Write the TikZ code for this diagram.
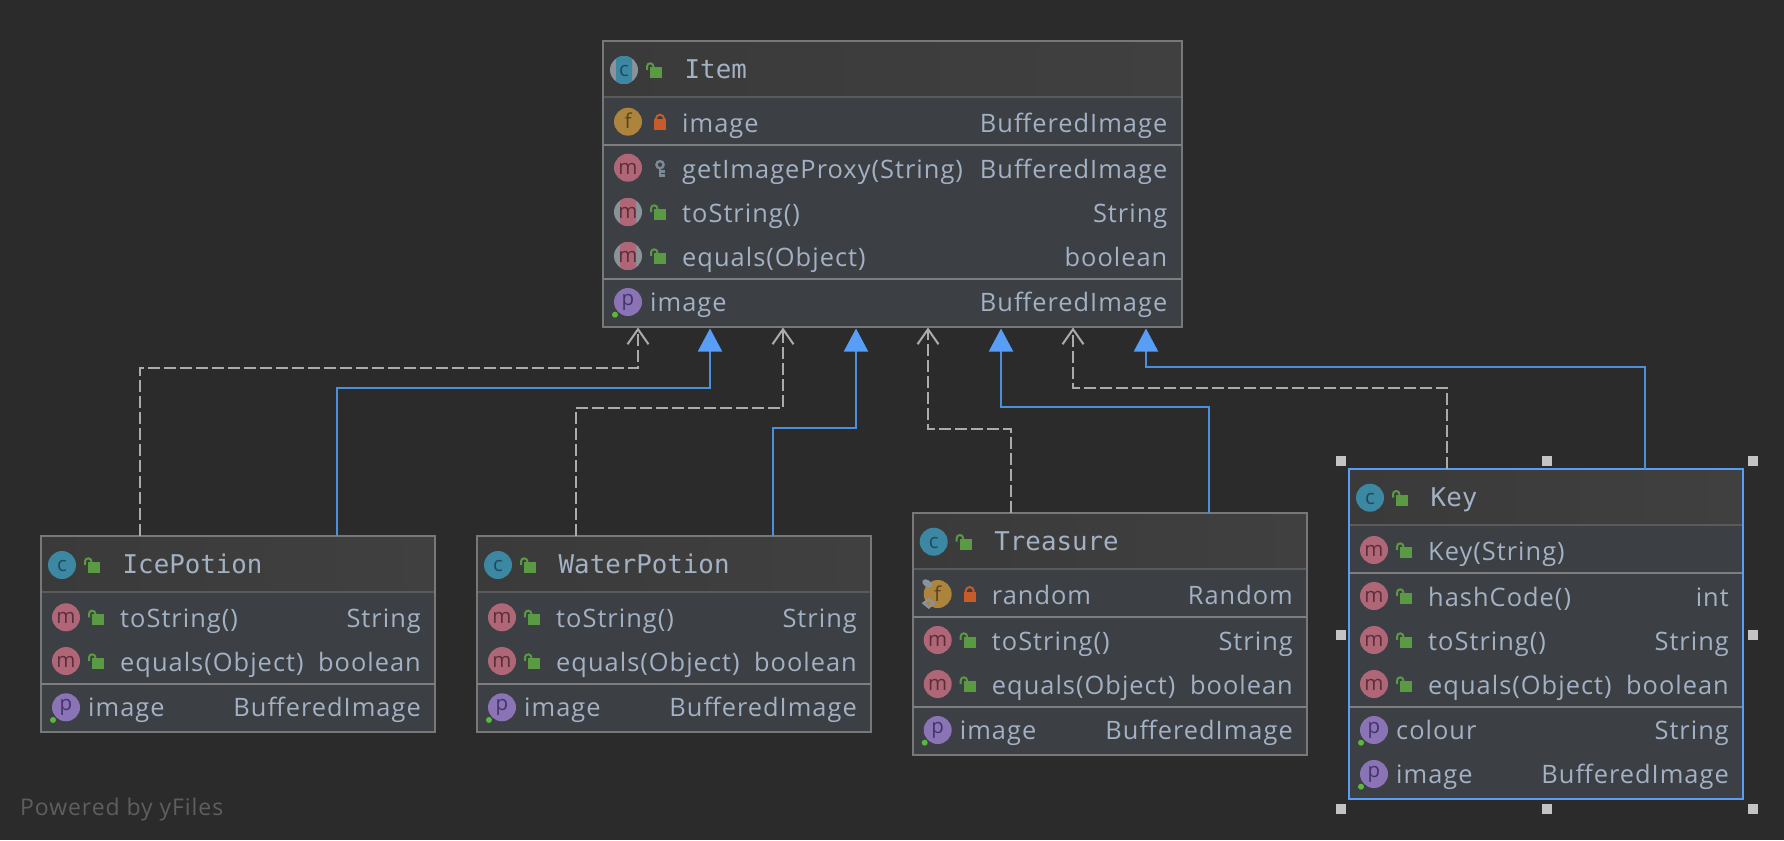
\documentclass[tikz,border=0pt]{standalone}
\usepackage{fontspec}
\usetikzlibrary{arrows.meta,calc}
\setmainfont{Open Sans}
\newfontfamily\memb[LetterSpace=4]{Open Sans}
\newfontfamily\monof{DejaVu Sans Mono}
\definecolor{bg}{HTML}{2B2B2B}
\definecolor{bodyc}{HTML}{3C3F43}
\definecolor{headl}{HTML}{3A3A3A}
\definecolor{headr}{HTML}{404040}
\definecolor{edge}{HTML}{787878}
\definecolor{divh}{HTML}{5A5A5A}
\definecolor{divm}{HTML}{7E7E7E}
\definecolor{txt}{HTML}{A3B1C4}
\definecolor{selb}{HTML}{589DF6}
\definecolor{inh}{HTML}{4A90DC}
\definecolor{dep}{HTML}{ABABAB}
\definecolor{cfill}{HTML}{3C88A3}
\definecolor{cink}{HTML}{1F4B5E}
\definecolor{mfill}{HTML}{AF6677}
\definecolor{mink}{HTML}{5C2E3A}
\definecolor{ffill}{HTML}{AC843D}
\definecolor{fink}{HTML}{5A4320}
\definecolor{pfill}{HTML}{8B74B5}
\definecolor{pink2}{HTML}{43346A}
\definecolor{absg}{HTML}{8A939A}
\definecolor{lockg}{HTML}{5A9A42}
\definecolor{lockr}{HTML}{C75B2A}
\definecolor{keyg}{HTML}{7B8A95}
\definecolor{dotg}{HTML}{5CB83C}
\definecolor{pow}{HTML}{5E5E5E}
\definecolor{handle}{HTML}{C4C4C4}
\newcounter{nn}
\newcommand{\nnode}{\stepcounter{nn}\node}
\newcommand{\nid}{n\arabic{nn}}
\tikzset{
  boxn/.style={draw=edge,fill=bodyc,line width=2pt,inner sep=0pt,outer sep=0pt,anchor=north west},
  hdr/.style={inner sep=0pt,anchor=base west,text=txt,font=\monof\fontsize{25.8pt}{28pt}\selectfont},
  lft/.style={inner sep=0pt,anchor=base west,text=txt,font=\memb\fontsize{25.4pt}{28pt}\selectfont},
  rgt/.style={inner sep=0pt,anchor=base east,text=txt,font=\memb\fontsize{25.4pt}{28pt}\selectfont},
  lett/.style={inner sep=0pt,anchor=base,font=\fontsize{20.5pt}{22pt}\selectfont},
  hand/.style={fill=handle,draw=none,minimum size=10pt,inner sep=0pt,outer sep=0pt},
  depl/.style={draw=dep,line width=2pt,dash pattern=on 12pt off 4pt,-{Straight Barb[length=15pt,width=21pt,line width=2pt]}},
  inhl/.style={draw=inh,line width=2pt,-{Triangle[length=23pt,width=24pt,fill=selb,color=selb]}},
}
% class box: name, left, top, right, bottom, header bottom
\newcommand{\classbox}[6]{%
  \pgfmathsetmacro{\bw}{#4-#2}\pgfmathsetmacro{\bh}{#5-#3}%
  \node[boxn,minimum width=\bw pt,minimum height=\bh pt] (#1) at (#2,#3) {};
  \shade[left color=headl,right color=headr] (#2+1,#3+1) rectangle (#4-1,#6);
  \draw[divh,line width=2pt] (#2,#6) -- (#4,#6);
  \draw[edge,line width=2pt] (#2,#3) rectangle (#4,#5);
  \def\bl{#2}\def\br{#4}}
\newcommand{\divline}[1]{\draw[divm,line width=2pt] (\bl,#1) -- (\br,#1);}
\newcommand{\badge}[6]{% x y fill ink letter dy
  \fill[#3] (#1,#2) circle[radius=14];
  \nnode[lett,text=#4] (\nid) at (#1,#2+#6) {#5};}
\newcommand{\absbadge}[6]{%
  \fill[absg] (#1,#2) circle[radius=14];
  \begin{scope}
    \clip (#1-8,#2-15) rectangle (#1+8,#2+15);
    \fill[#3] (#1,#2) circle[radius=14];
  \end{scope}
  \nnode[lett,text=#4] (\nid) at (#1,#2+#6) {#5};}
\newcommand{\lockopen}[2]{%
  \fill[lockg] (#1+26,#2-3) rectangle (#1+38,#2+8);
  \draw[lockg,line width=2pt] (#1+23,#2) -- (#1+23,#2-3.5) arc[start angle=180,end angle=360,radius=3.2] -- (#1+29.4,#2-2);}
\newcommand{\lockshut}[2]{%
  \fill[lockr] (#1+26,#2-2.3) rectangle (#1+38,#2+8.3);
  \draw[lockr,line width=2pt] (#1+28,#2-2) -- (#1+28,#2-3) arc[start angle=180,end angle=360,radius=4] -- (#1+36,#2-2);}
\newcommand{\keyicon}[2]{%
  \draw[keyg,line width=2.4pt] (#1+32,#2-3) circle[radius=3.6];
  \draw[keyg,line width=2.6pt] (#1+32,#2) -- (#1+32,#2+9) (#1+32,#2+3.5) -- (#1+37,#2+3.5) (#1+32,#2+8) -- (#1+37,#2+8);}
% header row: y, text
\newcommand{\headrow}[2]{%
  \badge{\bl+21}{#1}{cfill}{cink}{c}{6.5}
  \lockopen{\bl+21}{#1}
  \nnode[hdr] (\nid) at (\bl+81.5,#1+8.5) {#2};}
% method row: y, left, right
\newcommand{\mrow}[3]{%
  \badge{\bl+25}{#1}{mfill}{mink}{m}{6.5}
  \lockopen{\bl+25}{#1}
  \nnode[lft] (\nid) at (\bl+79,#1+10) {#2};
  \nnode[rgt] (\nid) at (\br-14,#1+10) {#3};}
% property row
\newcommand{\prow}[3]{%
  \badge{\bl+25}{#1}{pfill}{pink2}{p}{3.5}
  \fill[dotg] (\bl+12,#1+12.7) circle[radius=3];
  \nnode[lft] (\nid) at (\bl+47,#1+9.5) {#2};
  \nnode[rgt] (\nid) at (\br-14,#1+9.5) {#3};}
\begin{document}
\begin{tikzpicture}[x=1pt,y=-1pt]
\useasboundingbox (0,0) rectangle (1784,840);
\fill[bg] (0,0) rectangle (1784,840);

% ---------- Item
\classbox{item}{603}{41}{1181.5}{327}{96.7}
\divline{145}\divline{278.7}
\absbadge{\bl+21}{70}{cfill}{cink}{c}{6.5}
\lockopen{\bl+21}{70}
\nnode[hdr] (\nid) at (\bl+81.5,78.5) {Item};
\badge{\bl+25}{121.7}{ffill}{fink}{f}{7}
\lockshut{\bl+25}{121.7}
\nnode[lft] (\nid) at (\bl+79,132) {image};
\nnode[rgt] (\nid) at (\br-14,132) {BufferedImage};
\badge{\bl+25}{167.7}{mfill}{mink}{m}{6.5}
\keyicon{\bl+25}{167.7}
\nnode[lft] (\nid) at (\bl+79,178) {getImageProxy(String)};
\nnode[rgt] (\nid) at (\br-14,178) {BufferedImage};
\absbadge{\bl+25}{212}{mfill}{mink}{m}{6.5}
\lockopen{\bl+25}{212}
\nnode[lft] (\nid) at (\bl+79,222) {toString()};
\nnode[rgt] (\nid) at (\br-14,222) {String};
\absbadge{\bl+25}{256}{mfill}{mink}{m}{6.5}
\lockopen{\bl+25}{256}
\nnode[lft] (\nid) at (\bl+79,266) {equals(Object)};
\nnode[rgt] (\nid) at (\br-14,266) {boolean};
\prow{302}{image}{BufferedImage}

% ---------- IcePotion
\classbox{ice}{41}{535.7}{435}{731.7}{591.7}
\divline{684}
\headrow{565}{IcePotion}
\mrow{617.3}{toString()}{String}
\mrow{661}{equals(Object)}{boolean}
\prow{707.3}{image}{BufferedImage}

% ---------- WaterPotion
\classbox{water}{477}{535.7}{871}{731.7}{591.7}
\divline{684}
\headrow{565}{WaterPotion}
\mrow{617.3}{toString()}{String}
\mrow{661}{equals(Object)}{boolean}
\prow{707.3}{image}{BufferedImage}

% ---------- Treasure
\classbox{treasure}{912.7}{512.7}{1307}{755}{569}
\divline{616.7}\divline{706.7}
\headrow{541.7}{Treasure}
\badge{\bl+25}{594}{ffill}{fink}{f}{7}
\fill[absg,rotate around={-35:(\bl+14.5,583.5)}] (\bl+14.5,583.5) ellipse[x radius=5.5,y radius=3.5];
\fill[absg] (\bl+16,598) -- (\bl+23,603) -- (\bl+16,609) -- (\bl+9,603) -- cycle;
\fill[ffill] (\bl+16,601) -- (\bl+19,603) -- (\bl+16,606) -- (\bl+13,603) -- cycle;
\lockshut{\bl+25}{594}
\nnode[lft] (\nid) at (\bl+79,604) {random};
\nnode[rgt] (\nid) at (\br-14,604) {Random};
\mrow{640}{toString()}{String}
\mrow{684}{equals(Object)}{boolean}
\prow{730}{image}{BufferedImage}

% ---------- Key
\classbox{key}{1349}{469.3}{1743}{799}{525}
\divline{572.7}\divline{706.7}
\headrow{497.7}{Key}
\badge{\bl+25}{550}{mfill}{mink}{m}{6.5}
\lockopen{\bl+25}{550}
\nnode[lft] (\nid) at (\bl+79,560) {Key(String)};
\mrow{596}{hashCode()}{int}
\mrow{640}{toString()}{String}
\mrow{684}{equals(Object)}{boolean}
\prow{730}{colour}{String}
\prow{774}{image}{BufferedImage}
\draw[selb,line width=2pt] (key.north west) rectangle (key.south east);

% ---------- selection handles
\foreach \hn/\hx/\hy in {ha/1341/461,hb/1547/461,hc/1752.7/461,hd/1341/635,he/1752.7/635,hf/1341/809,hg/1547/809,hh/1752.7/809}
  \node[hand] (\hn) at (\hx,\hy) {};

% ---------- connectors
\draw[depl] ($(ice.north west)+(99,0)$) |- ($(item.south west)+(35,41)$) -- ($(item.south west)+(35,0.5)$);
\draw[inhl] ($(ice.north west)+(296,0)$) |- ($(item.south west)+(107,61)$) -- ($(item.south west)+(107,1.5)$);
\draw[depl] ($(water.north west)+(99,0)$) |- ($(item.south west)+(180,81)$) -- ($(item.south west)+(180,0.5)$);
\draw[inhl] ($(water.north west)+(296,0)$) |- ($(item.south west)+(253,101)$) -- ($(item.south west)+(253,1.5)$);
\draw[depl] ($(treasure.north west)+(98.3,0)$) |- ($(item.south west)+(325,102)$) -- ($(item.south west)+(325,0.5)$);
\draw[inhl] ($(treasure.north west)+(296.3,0)$) |- ($(item.south west)+(398,80)$) -- ($(item.south west)+(398,1.5)$);
\draw[depl] ($(key.north west)+(98,0)$) |- ($(item.south west)+(470,61)$) -- ($(item.south west)+(470,0.5)$);
\draw[inhl] ($(key.north west)+(296,0)$) |- ($(item.south west)+(543,40)$) -- ($(item.south west)+(543,1.5)$);

\nnode[inner sep=0pt,anchor=base west,text=pow,font=\memb\fontsize{23pt}{26pt}\selectfont] (powered) at (20,815) {Powered by yFiles};
\end{tikzpicture}
\end{document}
